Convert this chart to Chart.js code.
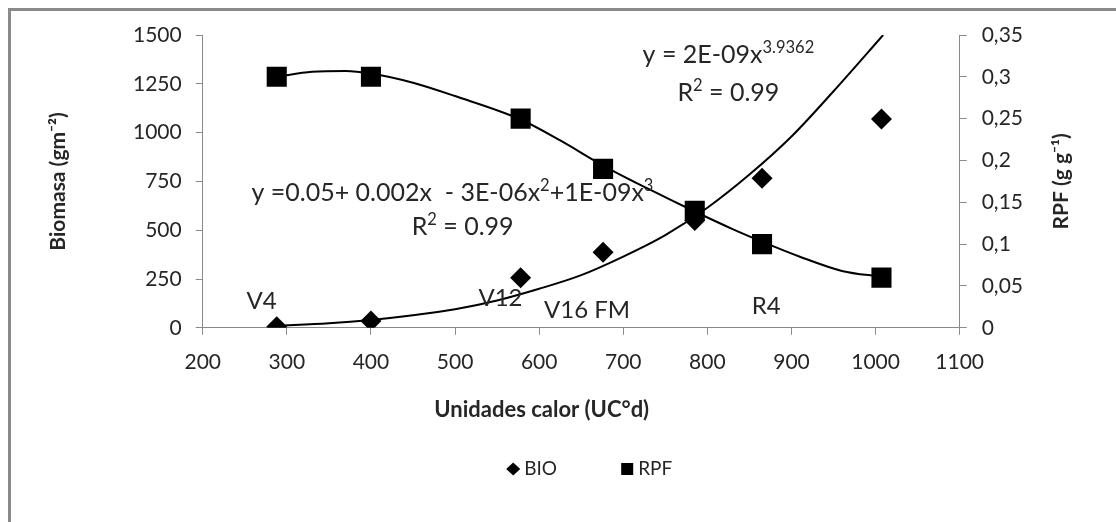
<!DOCTYPE html>
<html lang="es">
<head>
<meta charset="utf-8">
<title>Biomasa y RPF</title>
<script src="https://cdn.jsdelivr.net/npm/chart.js@4.4.1/dist/chart.umd.min.js"></script>
<style>
  html, body { margin: 0; padding: 0; background: #fff; overflow: hidden; }
  #marco { position: absolute; left: 8px; top: 8px; width: 1300px; height: 700px; border: 3px solid #8a8a8a; }
  #contenedor { position: absolute; left: 0; top: 0; width: 1116px; height: 522px; }
</style>
</head>
<body>
<div id="marco"></div>
<div id="contenedor"><canvas id="grafico"></canvas></div>
<script>
// datos observados
const unidadesCalor = [288, 400, 578, 676, 785, 865, 1007];
const biomasa = [5, 35, 257, 387, 550, 766, 1070];
const rpf = [0.30, 0.30, 0.25, 0.19, 0.14, 0.10, 0.06];

// lineas de tendencia
const tendBioX = [288, 350, 400, 450, 500, 550, 600, 650, 700, 750, 800, 850, 900, 950, 1009];
const tendBioY = [10, 23, 40, 64, 95, 140, 200, 270, 365, 475, 615, 785, 980, 1212, 1500];
const tendRpfX = [288, 330, 370, 400, 450, 500, 578, 625, 676, 730, 785, 830, 865, 910, 960, 1007];
const tendRpfY = [0.300, 0.306, 0.307, 0.304, 0.293, 0.277, 0.249, 0.224, 0.194, 0.166, 0.139, 0.118, 0.103, 0.085, 0.068, 0.061];

// etapas fenologicas (x en UC°d, y en escala de biomasa)
const etapas = ['V4', 'V12', 'V16 FM', 'R4'];
const etapaX = [270, 554, 657, 870];
const etapaY = [138, 150, 92, 109];

const fuente = 'Lato, "Open Sans", sans-serif';
const tinta = '#262626';
const gris = '#8a8a8a';

const pares = (xs, ys) => xs.map((x, i) => ({ x: x, y: ys[i] }));

// texto con partes en superindice: [texto, esSup]
function escribir(ctx, partes, x, y, tam, centrado) {
  const ancho = p => {
    ctx.font = (p[1] ? tam * 0.66 : tam) + 'px ' + fuente;
    return ctx.measureText(p[0]).width;
  };
  const total = partes.reduce((s, p) => s + ancho(p), 0);
  let cx = centrado ? x - total / 2 : x;
  ctx.textAlign = 'left';
  ctx.textBaseline = 'middle';
  partes.forEach(p => {
    const w = ancho(p);
    ctx.fillText(p[0], cx, p[1] ? y - tam * 0.3 : y);
    cx += w;
  });
}

const anotaciones = {
  id: 'anotaciones',
  afterDatasetsDraw(chart) {
    const { ctx, scales } = chart;
    const px = v => scales.x.getPixelForValue(v);
    const py = v => scales.y.getPixelForValue(v);
    ctx.save();
    ctx.fillStyle = tinta;
    etapas.forEach((t, i) => {
      ctx.font = '24px ' + fuente;
      ctx.textAlign = 'center';
      ctx.textBaseline = 'middle';
      ctx.fillText(t, px(etapaX[i]), py(etapaY[i]));
    });
    escribir(ctx, [['y = 2E-09x'], ['3.9362', true]], px(723), py(1398), 25, false);
    escribir(ctx, [['R'], ['2', true], [' = 0.99']], px(825), py(1203), 25, true);
    escribir(ctx, [['y =0.05+ 0.002x  - 3E-06x'], ['2', true], ['+1E-09x'], ['3', true]], px(258), py(691), 25, false);
    escribir(ctx, [['R'], ['2', true], [' = 0.99']], px(509), py(517), 25, true);
    ctx.restore();
  }
};

// titulos de los ejes y leyenda
const extras = {
  id: 'extras',
  afterDraw(chart) {
    const { ctx, chartArea } = chart;
    const medioY = (chartArea.top + chartArea.bottom) / 2;
    ctx.save();
    ctx.fillStyle = tinta;
    ctx.font = 'bold 22px ' + fuente;
    ctx.textAlign = 'center';
    ctx.textBaseline = 'middle';
    ctx.fillText('Unidades calor (UC°d)', chartArea.left + 339, chartArea.bottom + 82);

    ctx.font = 'bold 21px ' + fuente;
    ctx.save();
    ctx.translate(58, medioY);
    ctx.rotate(-Math.PI / 2);
    ctx.fillText('Biomasa (gm\u207B\u00B2)', 0, 0);
    ctx.restore();

    ctx.save();
    ctx.translate(chartArea.right + 102, medioY);
    ctx.rotate(-Math.PI / 2);
    ctx.fillText('RPF (g g\u207B\u00B9)', 0, 0);
    ctx.restore();
    ctx.restore();

    // leyenda: solo las series observadas
    const cx = (chartArea.left + chartArea.right) / 2;
    const ly = chart.height - 53;
    ctx.save();
    ctx.fillStyle = '#000';
    ctx.beginPath();
    ctx.moveTo(cx - 75, ly);
    ctx.lineTo(cx - 68, ly - 6.5);
    ctx.lineTo(cx - 61, ly);
    ctx.lineTo(cx - 68, ly + 6.5);
    ctx.closePath();
    ctx.fill();
    ctx.fillRect(cx + 40, ly - 6, 12, 12);
    ctx.fillStyle = tinta;
    ctx.font = '19px ' + fuente;
    ctx.textAlign = 'left';
    ctx.textBaseline = 'middle';
    ctx.fillText('BIO', cx - 57, ly);
    ctx.fillText('RPF', cx + 57, ly);
    ctx.restore();
  }
};

const ejeGrid = { display: true, drawOnChartArea: false, drawTicks: true, tickLength: 7, color: gris };
const ejeBorde = { display: true, color: gris, width: 1 };
const fuenteTicks = { family: fuente, size: 21 };

new Chart(document.getElementById('grafico'), {
  type: 'scatter',
  data: {
    datasets: [
      {
        label: 'BIO',
        data: pares(unidadesCalor, biomasa),
        yAxisID: 'y',
        pointStyle: 'rectRot',
        pointRadius: 10.5,
        backgroundColor: '#000',
        borderColor: '#000',
        borderWidth: 0,
        order: 0
      },
      {
        label: 'RPF',
        data: pares(unidadesCalor, rpf),
        yAxisID: 'y1',
        pointStyle: 'rect',
        pointRadius: 14.2,
        backgroundColor: '#000',
        borderColor: '#000',
        borderWidth: 0,
        order: 0
      },
      {
        label: 'tendencia BIO',
        type: 'line',
        data: pares(tendBioX, tendBioY),
        yAxisID: 'y',
        borderColor: '#000',
        borderWidth: 2,
        pointRadius: 0,
        cubicInterpolationMode: 'monotone',
        fill: false,
        order: 1
      },
      {
        label: 'tendencia RPF',
        type: 'line',
        data: pares(tendRpfX, tendRpfY),
        yAxisID: 'y1',
        borderColor: '#000',
        borderWidth: 2,
        pointRadius: 0,
        cubicInterpolationMode: 'monotone',
        fill: false,
        order: 1
      }
    ]
  },
  options: {
    responsive: true,
    maintainAspectRatio: false,
    animation: false,
    layout: { padding: { left: 119, right: 78, top: 35, bottom: 132 } },
    plugins: {
      legend: { display: false },
      tooltip: { enabled: false }
    },
    scales: {
      x: {
        type: 'linear',
        min: 200,
        max: 1100,
        ticks: { stepSize: 100, padding: 15, color: tinta, font: fuenteTicks, callback: v => String(v) },
        grid: ejeGrid,
        border: ejeBorde
      },
      y: {
        position: 'left',
        min: 0,
        max: 1500,
        ticks: { stepSize: 250, padding: 14, color: tinta, font: fuenteTicks, callback: v => String(v) },
        grid: ejeGrid,
        border: ejeBorde
      },
      y1: {
        position: 'right',
        min: 0,
        max: 0.35,
        ticks: {
          stepSize: 0.05,
          padding: 15,
          color: tinta,
          font: fuenteTicks,
          callback: v => v === 0 ? '0' : String(Math.round(v * 100) / 100).replace('.', ',')
        },
        grid: ejeGrid,
        border: ejeBorde
      }
    }
  },
  plugins: [anotaciones, extras]
});
</script>
</body>
</html>
